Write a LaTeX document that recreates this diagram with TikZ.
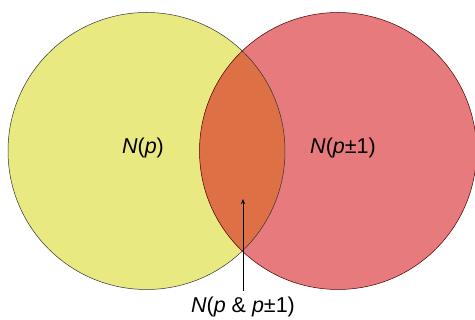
\documentclass[tikz,border=0pt]{standalone}
\usepackage{fontspec}
\setmainfont{Liberation Sans}
\usetikzlibrary{arrows.meta}
\definecolor{cyel}{RGB}{232,233,128}
\definecolor{cpink}{RGB}{230,122,124}
\definecolor{corange}{RGB}{222,112,70}
\begin{document}
\begin{tikzpicture}[x=1pt,y=-1pt,
  setc/.style={draw=black!80,line width=0.5pt},
  lbl/.style={font=\fontsize{21.5}{24}\selectfont,inner sep=0pt}]
\useasboundingbox (0,0) rectangle (475,320);
\fill[cyel] (146.5,151) circle (138.5);
\fill[cpink] (338,151) circle (138.5);
\begin{scope}
\clip (146.5,151) circle (138.5);
\fill[corange] (338,151) circle (138.5);
\end{scope}
\draw[setc] (146.5,151) circle (138.5);
\draw[draw=black!70!red,line width=0.5pt] (338,151) circle (138.5);
\node[lbl] (np) at (143,148) {\textit{N}(\textit{p})};
\node[lbl] (npp) at (343,148) {\textit{N}(\textit{p}±1)};
\node[lbl,anchor=base] (both) at (243,313) {\textit{N}(\textit{p} \& \textit{p}±1)};
\coordinate (base) at (243,291);
\coordinate (tip) at (243,199);
\draw[-{Stealth[length=5pt,width=4pt]},line width=0.7pt] (base) -- (tip);
\end{tikzpicture}
\end{document}
